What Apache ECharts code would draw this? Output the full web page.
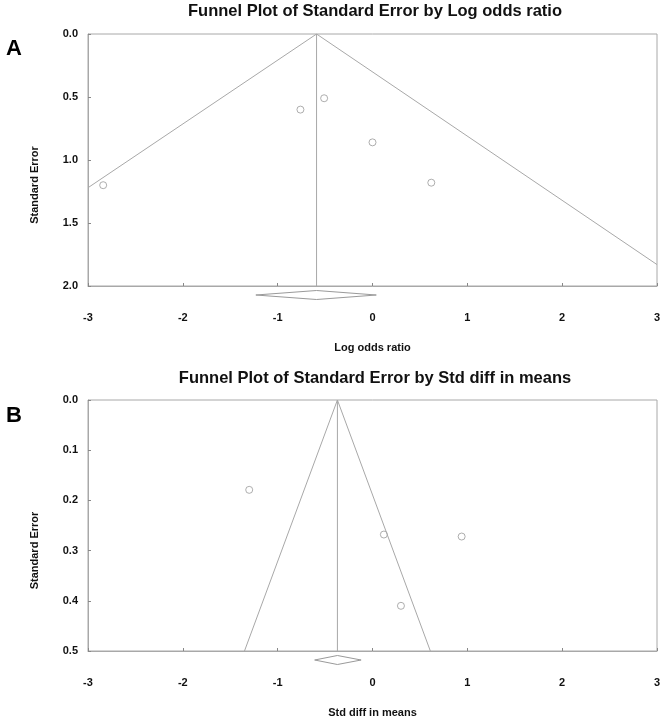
<!DOCTYPE html>
<html><head><meta charset="utf-8">
<script src="https://cdn.jsdelivr.net/npm/echarts@6/dist/echarts.min.js"></script>
<style>html,body{margin:0;padding:0;background:#fff}#c{width:665px;height:720px}</style>
</head><body><div id="c"></div>
<script>
// ---- data ----
const xTicks = [-3, -2, -1, 0, 1, 2, 3];
// Panel A: Log odds ratio vs Standard Error
const pointsA = [[-2.84, 1.20], [-0.76, 0.60], [-0.51, 0.51], [0.00, 0.86], [0.62, 1.18]];
const funnelA = [[-3.0, 1.22], [-0.59, 0], [3.0, 1.83]];
const centerA = [[-0.59, 0], [-0.59, 2.0]];
const diamondA = [[-1.23, -0.59, 0.04]];
// Panel B: Std diff in means vs Standard Error
const pointsB = [[-1.30, 0.179], [0.12, 0.268], [0.94, 0.272], [0.30, 0.410]];
const funnelB = [[-1.35, 0.5], [-0.37, 0], [0.61, 0.5]];
const centerB = [[-0.37, 0], [-0.37, 0.5]];
const diamondB = [[-0.61, -0.37, -0.12]];

const LINE = '#a8a8a8';
const PT = '#9a9a9a';
const FONT = 'Liberation Sans';

function diamondRender(yMax) {
  return function (params, api) {
    const lo = api.coord([api.value(0), yMax]);
    const c = api.coord([api.value(1), yMax]);
    const hi = api.coord([api.value(2), yMax]);
    const yc = lo[1] + 9, h = 4.5;
    return {
      type: 'polygon',
      shape: { points: [[lo[0], yc], [c[0], yc - h], [hi[0], yc], [c[0], yc + h]] },
      style: { fill: '#fff', stroke: PT, lineWidth: 1 }
    };
  };
}

function xAxisDef(idx, name) {
  return {
    type: 'value', gridIndex: idx, min: -3, max: 3, interval: 1, position: 'bottom',
    name: name, nameLocation: 'middle', nameGap: 56,
    nameTextStyle: { fontFamily: FONT, fontWeight: 'bold', fontSize: 11, color: '#111' },
    axisLine: { show: true, onZero: false, lineStyle: { color: LINE } },
    axisTick: { show: true, inside: true, length: 3, lineStyle: { color: '#888' } },
    axisLabel: { margin: 26, fontFamily: FONT, fontWeight: 'bold', fontSize: 11, color: '#111' },
    splitLine: { show: false }
  };
}
function yAxisDef(idx, max, interval) {
  return {
    type: 'value', gridIndex: idx, min: 0, max: max, interval: interval, inverse: true, position: 'left',
    name: 'Standard Error', nameLocation: 'middle', nameGap: 48, nameRotate: 90,
    nameTextStyle: { fontFamily: FONT, fontWeight: 'bold', fontSize: 11, color: '#111', padding: [0, 50, 0, 0] },
    axisLine: { show: true, onZero: false, lineStyle: { color: LINE } },
    axisTick: { show: true, inside: true, length: 3, lineStyle: { color: '#888' } },
    axisLabel: { margin: 10, fontFamily: FONT, fontWeight: 'bold', fontSize: 11, color: '#111',
      formatter: v => v.toFixed(1) },
    splitLine: { show: false }
  };
}
function lineSeries(data, xi) {
  return { type: 'line', xAxisIndex: xi, yAxisIndex: xi, data: data, symbol: 'none',
    lineStyle: { color: LINE, width: 1 }, silent: true, animation: false };
}

const chart = echarts.init(document.getElementById('c'), null, { renderer: 'canvas' });
chart.setOption({
  animation: false,
  backgroundColor: '#fff',
  title: [
    { text: 'Funnel Plot of Standard Error by Log odds ratio', left: 375, top: 3, padding: 0, textAlign: 'center',
      textStyle: { fontFamily: FONT, fontWeight: 'bold', fontSize: 16.5, color: '#111' } },
    { text: 'Funnel Plot of Standard Error by Std diff in means', left: 375, top: 370, padding: 0, textAlign: 'center',
      textStyle: { fontFamily: FONT, fontWeight: 'bold', fontSize: 16.5, color: '#111' } },
    { text: 'A', left: 6, top: 38, padding: 0,
      textStyle: { fontFamily: FONT, fontWeight: 'bold', fontSize: 22, color: '#000' } },
    { text: 'B', left: 6, top: 405, padding: 0,
      textStyle: { fontFamily: FONT, fontWeight: 'bold', fontSize: 22, color: '#000' } }
  ],
  grid: [
    { left: 88, right: 8, top: 34, height: 252, show: true, borderColor: LINE, borderWidth: 1, backgroundColor: 'transparent' },
    { left: 88, right: 8, top: 400, height: 251, show: true, borderColor: LINE, borderWidth: 1, backgroundColor: 'transparent' }
  ],
  xAxis: [xAxisDef(0, 'Log odds ratio'), xAxisDef(1, 'Std diff in means')],
  yAxis: [yAxisDef(0, 2, 0.5), yAxisDef(1, 0.5, 0.1)],
  series: [
    lineSeries(funnelA, 0),
    lineSeries(centerA, 0),
    { type: 'custom', xAxisIndex: 0, yAxisIndex: 0, data: diamondA, clip: false,
      renderItem: diamondRender(2), encode: { x: [0, 1, 2] } },
    { type: 'scatter', xAxisIndex: 0, yAxisIndex: 0, data: pointsA, symbol: 'circle', symbolSize: 7,
      itemStyle: { color: '#fff', borderColor: PT, borderWidth: 1 } },
    lineSeries(funnelB, 1),
    lineSeries(centerB, 1),
    { type: 'custom', xAxisIndex: 1, yAxisIndex: 1, data: diamondB, clip: false,
      renderItem: diamondRender(0.5), encode: { x: [0, 1, 2] } },
    { type: 'scatter', xAxisIndex: 1, yAxisIndex: 1, data: pointsB, symbol: 'circle', symbolSize: 7,
      itemStyle: { color: '#fff', borderColor: PT, borderWidth: 1 } }
  ]
});
</script></body></html>
